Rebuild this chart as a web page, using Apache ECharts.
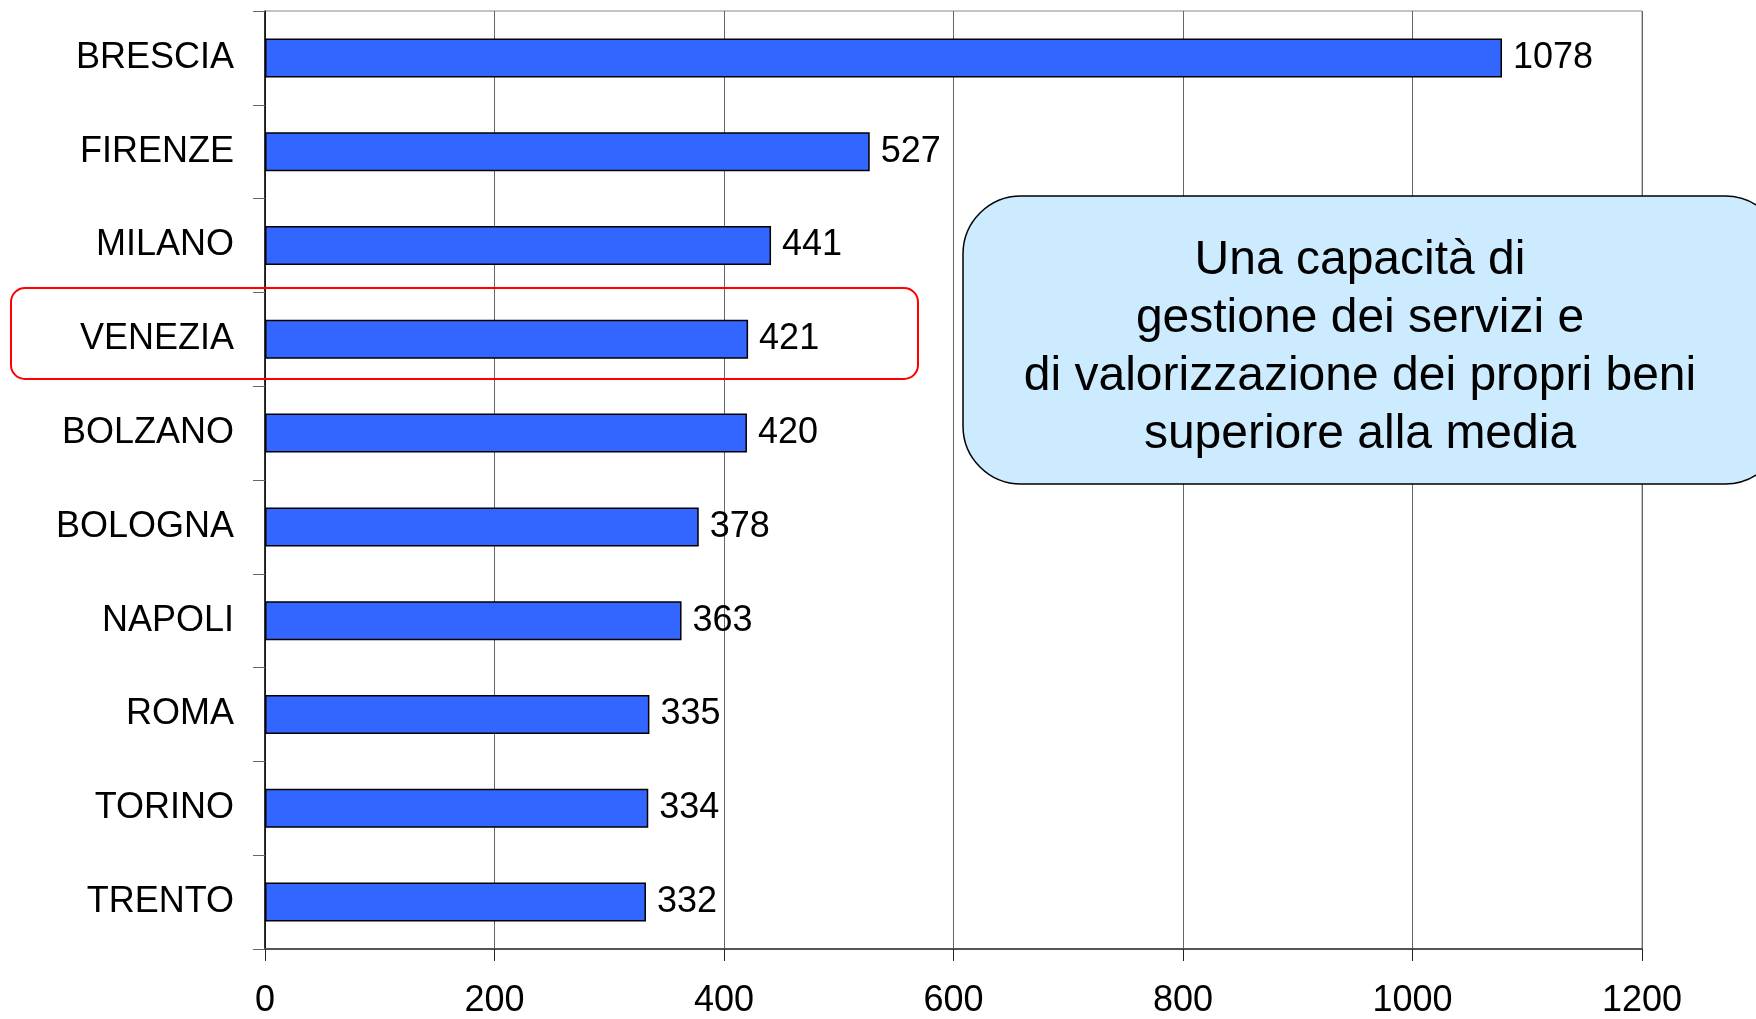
<!DOCTYPE html>
<html>
<head>
<meta charset="utf-8">
<script src="https://cdn.jsdelivr.net/npm/echarts@6/dist/echarts.min.js"></script>
<style>
  html, body { margin: 0; padding: 0; background: #fff; }
  #main { width: 1756px; height: 1019px; }
</style>
</head>
<body>
<div id="main"></div>
<script>
// dati
const cities = ['BRESCIA', 'FIRENZE', 'MILANO', 'VENEZIA', 'BOLZANO', 'BOLOGNA', 'NAPOLI', 'ROMA', 'TORINO', 'TRENTO'];
const values = [1078, 527, 441, 421, 420, 378, 363, 335, 334, 332];
const noteLines = ['Una capacità di', 'gestione dei servizi e', 'di valorizzazione dei propri beni', 'superiore alla media'];

const FONT = '"Liberation Sans", Arial, sans-serif';

const chart = echarts.init(document.getElementById('main'));

const option = {
  animation: false,
  backgroundColor: '#fff',
  grid: {
    left: 265, right: 114, top: 11, bottom: 69,
    show: true, borderColor: '#888', borderWidth: 1
  },
  xAxis: {
    type: 'value',
    min: 0, max: 1200, interval: 200,
    axisLine: { show: true, lineStyle: { color: '#555', width: 2 } },
    axisTick: { show: true, length: 12, lineStyle: { color: '#222' } },
    splitLine: { show: true, lineStyle: { color: '#666', width: 1 } },
    axisLabel: {
      color: '#000', fontSize: 36, fontFamily: FONT, margin: 34,
      formatter: function (v) { return String(v); }
    }
  },
  yAxis: {
    type: 'category',
    data: cities,
    inverse: true,
    axisLine: { show: true, lineStyle: { color: '#000', width: 1.5 } },
    axisTick: { show: true, length: 12, lineStyle: { color: '#666' } },
    axisLabel: { color: '#000', fontSize: 36, fontFamily: FONT, margin: 31 }
  },
  series: [{
    type: 'bar',
    data: values,
    barWidth: 39,
    itemStyle: { color: '#3366FF', borderColor: '#000', borderWidth: 1.5 },
    label: {
      show: true, position: 'right', distance: 11,
      color: '#000', fontSize: 36, fontFamily: FONT
    }
  }],
  graphic: [
    {
      type: 'rect',
      shape: { x: 11, y: 288, width: 907, height: 91, r: 14 },
      style: { fill: 'none', stroke: '#FF0000', lineWidth: 2 },
      z: 100
    },
    {
      type: 'rect',
      shape: { x: 963, y: 196, width: 820, height: 288, r: 58 },
      style: { fill: '#CCEBFF', stroke: '#000', lineWidth: 1.5 },
      z: 100
    },
    {
      type: 'text',
      x: 1360, y: 348,
      style: {
        text: noteLines.join('\n'),
        fill: '#000',
        font: '48px ' + FONT,
        lineHeight: 58,
        align: 'center',
        verticalAlign: 'middle'
      },
      z: 101
    }
  ]
};

chart.setOption(option);
</script>
</body>
</html>
